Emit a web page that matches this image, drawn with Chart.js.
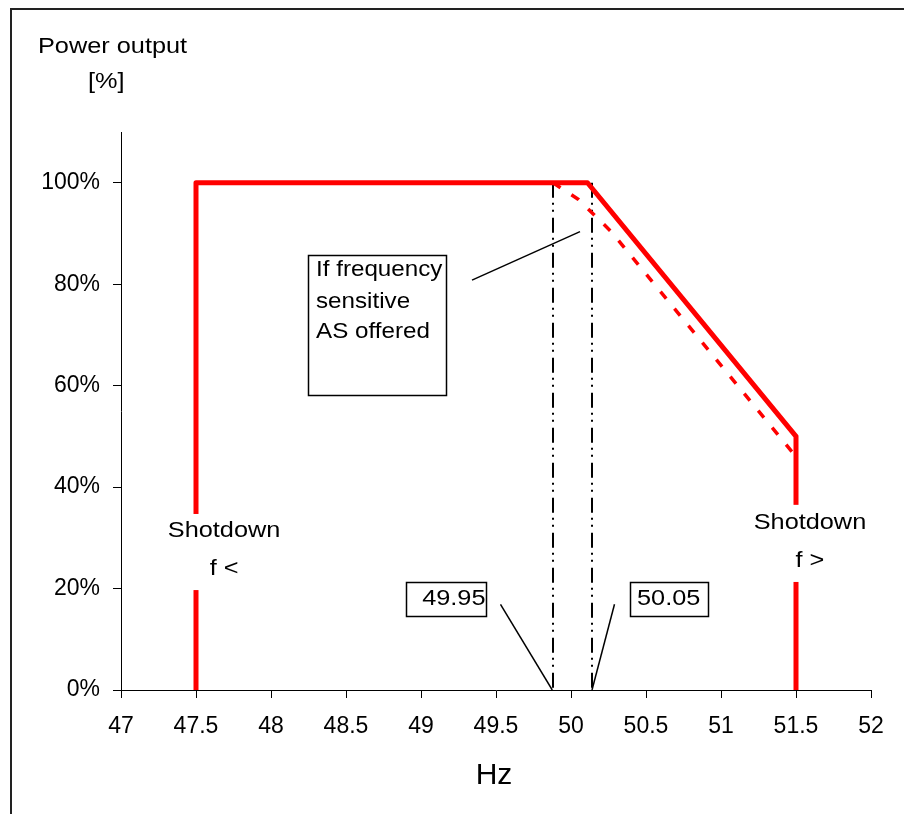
<!DOCTYPE html>
<html>
<head>
<meta charset="utf-8">
<script src="https://cdn.jsdelivr.net/npm/chart.js@4"></script>
<style>
  html, body { margin: 0; padding: 0; background: #fff; }
  #wrap { position: relative; width: 904px; height: 814px; }
  #frame { position: absolute; left: 10px; top: 8px; width: 900px; height: 820px;
           border-left: 2px solid #222; border-top: 2px solid #222; }
</style>
</head>
<body>
<div id="wrap">
  <div id="frame"></div>
  <canvas id="chart"></canvas>
</div>
<script>
// tick labels
const xTicks = [47, 47.5, 48, 48.5, 49, 49.5, 50, 50.5, 51, 51.5, 52];
const yTicks = [0, 20, 40, 60, 80, 100];

// power curve (solid red)
const curveHz  = [47.5, 47.5, 50.11, 51.5, 51.5];
const curvePct = [0, 100, 100, 50, 0];

// curve if frequency sensitive AS offered (dotted red)
const asHz  = [49.88, 50.05, 50.27, 51.5];
const asPct = [100, 96.7, 90.3, 46];

// dead band markers (49.95 / 50.05)
const bandLowHz  = [49.88, 49.88];
const bandHighHz = [50.14, 50.14];
const bandPct    = [100, 0];

// leader lines from the text boxes
const leadAsHz   = [49.34, 50.06];
const leadAsPct  = [80.8, 90.35];
const leadLowHz  = [49.53, 49.875];
const leadLowPct = [16.9, 0];
const leadHighHz = [50.29, 50.14];
const leadHighPct = [16.9, 0];

const FONT = '"Liberation Sans", Arial, sans-serif';

function pts(xs, ys) {
    return xs.map((x, i) => ({ x: x, y: ys[i] }));
}

function line(xs, ys, color, width, dash, order) {
    return {
        data: pts(xs, ys),
        showLine: true,
        borderColor: color,
        borderWidth: width,
        borderDash: dash || [],
        borderJoinStyle: 'round',
        pointRadius: 0,
        fill: false,
        order: order
    };
}

// text drawn a bit wider than tall, like the original picture
function stretchText(ctx, txt, x, y, size, align, sx) {
    sx = sx || 1.15;
    ctx.save();
    ctx.font = size + 'px ' + FONT;
    ctx.fillStyle = '#000';
    ctx.textBaseline = 'middle';
    const w = ctx.measureText(txt).width * sx;
    let left = x;
    if (align === 'center') left = x - w / 2;
    if (align === 'right') left = x - w;
    ctx.translate(left, y);
    ctx.scale(sx, 1);
    ctx.textAlign = 'left';
    ctx.fillText(txt, 0, 0);
    ctx.restore();
    return w;
}

const notes = {
    id: 'notes',
    afterDatasetsDraw(chart) {
        const ctx = chart.ctx;
        const sx = chart.scales.x, sy = chart.scales.y;
        const px = v => sx.getPixelForValue(v);
        const py = v => sy.getPixelForValue(v);

        // Shotdown labels (white backing cuts the red lines)
        ctx.save();
        ctx.fillStyle = '#fff';
        ctx.fillRect(px(47.5) - 6, py(34.7), 12, py(19.7) - py(34.7));
        ctx.fillRect(px(51.5) - 6, py(36.5), 12, py(21.3) - py(36.5));
        ctx.restore();
        stretchText(ctx, 'Shotdown', px(47.687), py(31.3), 22, 'center');
        stretchText(ctx, 'f <', px(47.687), py(23.8), 22, 'center');
        stretchText(ctx, 'Shotdown', px(51.593), py(32.9), 22, 'center');
        stretchText(ctx, 'f >', px(51.593), py(25.4), 22, 'center');

        // text boxes
        ctx.save();
        ctx.strokeStyle = '#000';
        ctx.lineWidth = 1.5;
        ctx.fillStyle = '#fff';
        const box = (x0, x1, y0, y1) => {
            const l = Math.round(px(x0)) + 0.5, r = Math.round(px(x1)) + 0.5;
            const t = Math.round(py(y0)) + 0.5, b = Math.round(py(y1)) + 0.5;
            ctx.fillRect(l, t, r - l, b - t);
            ctx.strokeRect(l, t, r - l, b - t);
        };
        box(48.247, 49.167, 85.75, 58.15);
        box(48.898, 49.433, 21.35, 14.65);
        box(50.393, 50.915, 21.35, 14.65);
        ctx.restore();

        stretchText(ctx, 'If frequency', px(48.30), py(82.8), 22, 'left', 1.1);
        stretchText(ctx, 'sensitive', px(48.30), py(76.55), 22, 'left', 1.1);
        stretchText(ctx, 'AS offered', px(48.30), py(70.6), 22, 'left', 1.1);
        stretchText(ctx, '49.95', px(49.43), py(18.0), 22, 'right');
        stretchText(ctx, '50.05', px(50.44), py(18.0), 22, 'left');
    },
    afterDraw(chart) {
        const ctx = chart.ctx;
        stretchText(ctx, 'Power output', 38, 47, 22, 'left');
        stretchText(ctx, '[%]', 88, 82, 22, 'left');
        stretchText(ctx, 'Hz', 494, 776, 30, 'center', 1.0);
    }
};

const ctx = document.getElementById('chart').getContext('2d');
new Chart(ctx, {
    type: 'scatter',
    data: {
        datasets: [
            line(curveHz, curvePct, '#ff0000', 5, [], 0),
            line(asHz, asPct, '#ff0000', 3.5, [9, 13], 1),
            line(bandLowHz, bandPct, '#000', 2, [15, 5, 2, 5, 2, 6], 2),
            line(bandHighHz, bandPct, '#000', 2, [15, 5, 2, 5, 2, 6], 2),
            line(leadAsHz, leadAsPct, '#000', 1.5, [], 3),
            line(leadLowHz, leadLowPct, '#000', 1.5, [], 3),
            line(leadHighHz, leadHighPct, '#000', 1.5, [], 3)
        ]
    },
    options: {
        responsive: true,
        maintainAspectRatio: false,
        animation: false,
        layout: { padding: { left: 0, top: 132, right: 33, bottom: 0 } },
        plugins: {
            legend: { display: false },
            tooltip: { enabled: false }
        },
        scales: {
            x: {
                type: 'linear',
                min: 47,
                max: 52,
                afterBuildTicks: s => { s.ticks = xTicks.map(v => ({ value: v })); },
                afterFit: s => { s.height = 124; },
                grid: { drawOnChartArea: false, tickLength: 8, color: '#000' },
                border: { color: '#000', width: 1 },
                ticks: {
                    color: '#000',
                    padding: 15,
                    maxRotation: 0,
                    autoSkip: false,
                    font: { size: 23, family: FONT },
                    callback: v => String(v)
                }
            },
            y: {
                type: 'linear',
                min: 0,
                max: 110,
                afterBuildTicks: s => { s.ticks = yTicks.map(v => ({ value: v })); },
                afterFit: s => { s.width = 121; },
                grid: { drawOnChartArea: false, tickLength: 8, color: '#000' },
                border: { color: '#000', width: 1 },
                ticks: {
                    color: '#000',
                    padding: 13,
                    font: { size: 23, family: FONT },
                    callback: v => v + '%'
                }
            }
        }
    },
    plugins: [notes]
});
</script>
</body>
</html>
